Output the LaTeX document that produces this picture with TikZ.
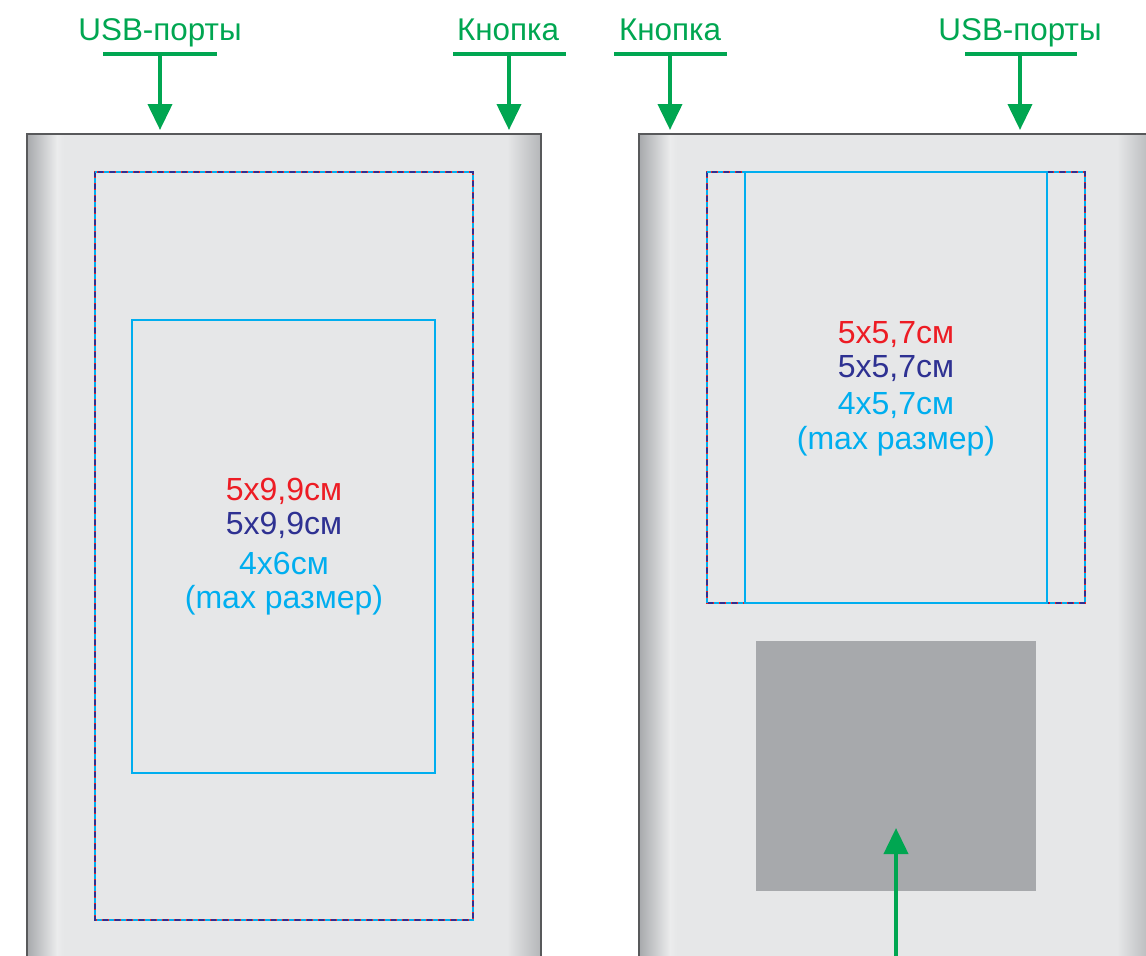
\documentclass[tikz,border=0pt]{standalone}
\usepackage{fontspec}
\setmainfont{Liberation Sans}
\usetikzlibrary{arrows.meta}
\definecolor{grn}{HTML}{00A651}
\definecolor{cutred}{HTML}{ED1C24}
\definecolor{cutnavy}{HTML}{2E3192}
\definecolor{cutcyan}{HTML}{00AEEF}
\definecolor{body}{HTML}{E6E7E8}
\definecolor{edge}{HTML}{A7A9AC}
\definecolor{frame}{HTML}{58595B}
\definecolor{pad}{HTML}{A7A9AC}
\begin{document}
\begin{tikzpicture}[x=0.5pt,y=-0.5pt,
  lbl/.style={text=grn, font=\fontsize{15.7}{18}\selectfont, anchor=base, inner sep=0pt},
  bar/.style={draw=grn, line width=1.7pt},
  ptr/.style={draw=grn, line width=2pt, -{Triangle[length=13pt,width=12pt]}},
  dimtxt/.style={font=\fontsize{16}{19}\selectfont, anchor=base, inner sep=0pt},
  devbody/.style={fill=body},
  devframe/.style={draw=frame, line width=1pt},
  cutA/.style={draw=cutred, line width=1.1pt},
  cutB/.style={draw=cutnavy, line width=1.1pt, dash pattern=on 2.5pt off 3.5pt},
  cutC/.style={draw=cutcyan, line width=1.1pt, dash pattern=on 2.5pt off 3.5pt, dash phase=3pt},
  safe/.style={draw=cutcyan, line width=0.6pt}]
\useasboundingbox (0,0) rectangle (1146,955);
\clip (0,0) rectangle (1146,955);

% ---------- left device ----------
\fill[devbody] (27,134) rectangle (541,970);
\shade[left color=edge, right color=body!80!white] (27,134) rectangle (57,970);
\shade[left color=body!80!white, right color=body] (57,134) rectangle (64,970);
\shade[left color=body, right color=edge!85!white] (507,134) rectangle (541,970);
\draw[devframe] (27,970) -- (27,134) -- (541,134) -- (541,970);

\draw[cutA] (95,172) rectangle (473,920);
\draw[cutB] (95,172) rectangle (473,920);
\draw[cutC] (95,172) rectangle (473,920);
\draw[safe] (132,320) rectangle (435,773);

\node[dimtxt, text=cutred]  (lA) at (284,500) {5x9,9см};
\node[dimtxt, text=cutnavy] (lB) at (284,534) {5x9,9см};
\node[dimtxt, text=cutcyan] (lC) at (284,574) {4x6см};
\node[dimtxt, text=cutcyan] (lD) at (284,608) {(max размер)};

% ---------- right device ----------
\fill[devbody] (639,134) rectangle (1153,970);
\shade[left color=edge, right color=body!80!white] (639,134) rectangle (670,970);
\shade[left color=body!80!white, right color=body] (670,134) rectangle (677,970);
\shade[left color=body, right color=edge!85!white] (1117,134) rectangle (1153,970);
\draw[devframe] (639,970) -- (639,134) -- (1153,134) -- (1153,970);

\draw[cutA] (707,172) rectangle (1085,603);
\draw[cutB] (707,172) rectangle (1085,603);
\draw[cutC] (707,172) rectangle (1085,603);
\draw[safe] (745,172) rectangle (1047,603);

\node[dimtxt, text=cutred]  (rA) at (896,343) {5x5,7см};
\node[dimtxt, text=cutnavy] (rB) at (896,377) {5x5,7см};
\node[dimtxt, text=cutcyan] (rC) at (896,414) {4x5,7см};
\node[dimtxt, text=cutcyan] (rD) at (896,449) {(max размер)};

\node[fill=pad, draw=none, minimum width=140pt, minimum height=125pt, inner sep=0pt] (sticker) at (896,766) {};

% ---------- top labels ----------
\node[lbl] (usbL) at (160,40) {USB-порты};
\node[lbl] (btnL) at (508,40) {Кнопка};
\node[lbl] (btnR) at (670,40) {Кнопка};
\node[lbl] (usbR) at (1020,40) {USB-порты};

\coordinate (usbLbar) at (160,54);
\coordinate (btnLbar) at (509,54);
\coordinate (btnRbar) at (670,54);
\coordinate (usbRbar) at (1020,54);
\coordinate (usbLtip) at (160,130);
\coordinate (btnLtip) at (509,130);
\coordinate (btnRtip) at (670,130);
\coordinate (usbRtip) at (1020,130);

\draw[bar] (103,54) -- (217,54);
\draw[bar] (453,54) -- (566,54);
\draw[bar] (614,54) -- (727,54);
\draw[bar] (965,54) -- (1077,54);

\draw[ptr] (usbLbar) -- (usbLtip);
\draw[ptr] (btnLbar) -- (btnLtip);
\draw[ptr] (btnRbar) -- (btnRtip);
\draw[ptr] (usbRbar) -- (usbRtip);

% ---------- bottom pointer ----------
\coordinate (padfoot) at (896,960);
\coordinate (padtip) at (896,828);
\draw[ptr] (padfoot) -- (padtip);
\end{tikzpicture}
\end{document}
